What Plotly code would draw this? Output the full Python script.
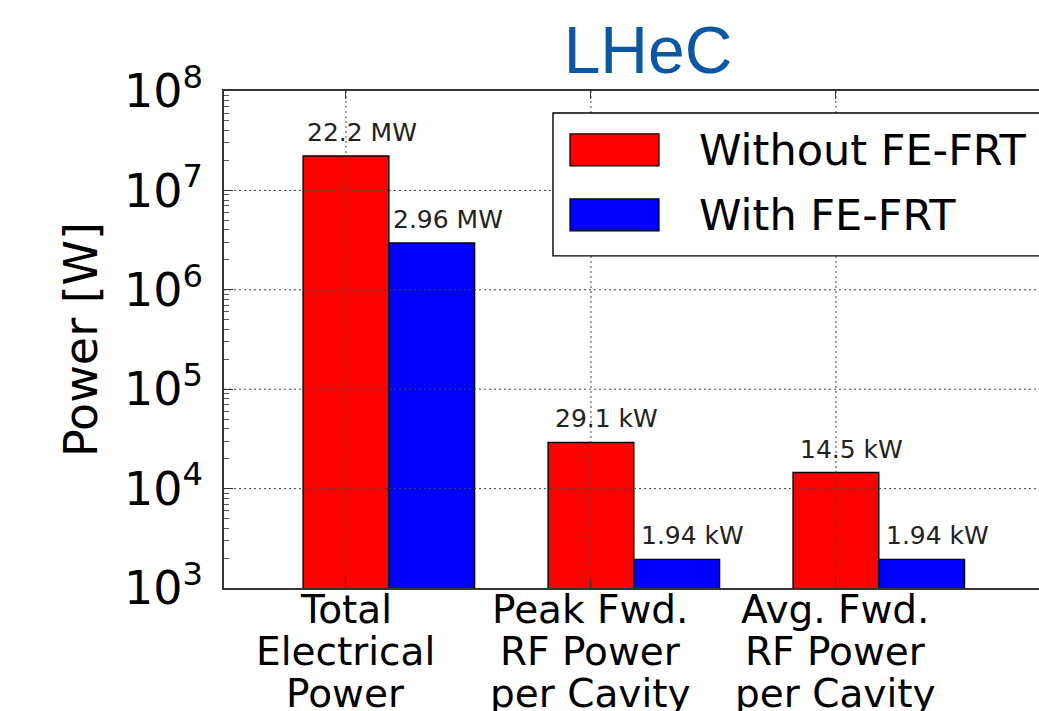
import math
import plotly.graph_objects as go

# ---------------- data ----------------
categories = ["Total\nElectrical\nPower",
              "Peak Fwd.\nRF Power\nper Cavity",
              "Avg. Fwd.\nRF Power\nper Cavity"]
series_names = ["Without FE-FRT", "With FE-FRT"]
without_fe_frt = [22.2e6, 29.1e3, 14.5e3]   # W
with_fe_frt = [2.96e6, 1.94e3, 1.94e3]      # W
ytick_exponents = [3, 4, 5, 6, 7, 8]
title_text = "LHeC"
y_title = "Power [W]"

# ---------------- layout helpers ----------------
W, H = 1039, 711
L_PX, T_PX, B_PX = 224, 91, 588.5
FONT = "DejaVu Sans"
BAR_W = 0.35
X_RANGE = [-0.498, 2.829]


def px_x(px):
    return (px - L_PX) / (W - L_PX)


def px_y(py):
    return (B_PX - py) / (B_PX - T_PX)


def fmt(v):
    if v >= 1e6:
        return f"{v / 1e6:.3g} MW"
    return f"{v / 1e3:.3g} kW"


colors = ["#ff0000", "#0000ff"]
series = [without_fe_frt, with_fe_frt]
xpos = list(range(len(categories)))

fig = go.Figure()
for s, (name, vals, col) in enumerate(zip(series_names, series, colors)):
    fig.add_trace(go.Bar(
        x=[i + s * BAR_W for i in xpos], y=vals, width=BAR_W, name=name,
        marker=dict(color=col, line=dict(color="#000000", width=1.4)),
        showlegend=False, hoverinfo="skip"))

# grid lines (drawn above bars, as in the matplotlib original)
gx, gy = [], []
for e in ytick_exponents[1:-1]:
    gx += [X_RANGE[0], X_RANGE[1], None]
    gy += [10 ** e, 10 ** e, None]
for i in xpos:
    gx += [i, i, None]
    gy += [10 ** ytick_exponents[0], 10 ** ytick_exponents[-1], None]
fig.add_trace(go.Scatter(x=gx, y=gy, mode="lines", showlegend=False, hoverinfo="skip",
                         line=dict(color="#444444", width=1, dash="2px,3px")))

annotations = []
# value labels
for s, vals in enumerate(series):
    for i, v in zip(xpos, vals):
        annotations.append(dict(
            x=i + s * BAR_W, y=math.log10(v), xref="x", yref="y",
            text=fmt(v), showarrow=False, xshift=16, yshift=7,
            xanchor="center", yanchor="bottom",
            font=dict(family=FONT, size=25, color="#222222")))

# category labels (multi-line, matplotlib-like line spacing)
baselines = [624, 666, 708]
fs_cat = 39
for i, cat in zip(xpos, categories):
    for line, bl in zip(cat.split("\n"), baselines):
        annotations.append(dict(
            x=i, y=px_y(bl - 0.346 * fs_cat), xref="x", yref="paper",
            text=line, showarrow=False, xanchor="center", yanchor="middle",
            font=dict(family=FONT, size=fs_cat, color="#000000")))

# legend (manual, matplotlib style, cut at the right edge like the original)
shapes = [dict(type="rect", xref="paper", yref="paper",
               x0=px_x(553), x1=px_x(1120), y0=px_y(256), y1=px_y(113),
               line=dict(color="#000000", width=1.4), fillcolor="#ffffff", layer="above")]
for k, (name, col) in enumerate(zip(series_names, colors)):
    cy = 150 + k * 65
    shapes.append(dict(type="rect", xref="paper", yref="paper",
                       x0=px_x(570), x1=px_x(659), y0=px_y(cy + 16), y1=px_y(cy - 16),
                       line=dict(color="#000000", width=1.2), fillcolor=col, layer="above"))
    annotations.append(dict(x=px_x(697), y=px_y(cy), xref="paper", yref="paper",
                            text=name, showarrow=False, xanchor="left", yanchor="middle",
                            font=dict(family=FONT, size=43, color="#000000")))

minor_vals = [k * 10 ** e for e in ytick_exponents[:-1] for k in range(2, 10)]

fig.update_layout(
    width=W, height=H,
    margin=dict(l=L_PX, r=0, t=T_PX, b=H - B_PX, pad=0),
    paper_bgcolor="#ffffff", plot_bgcolor="#ffffff",
    barmode="overlay",
    showlegend=False,
    title=dict(text=title_text, x=648 / W, xanchor="center", xref="container",
               yref="container", y=1 - 50 / H, yanchor="middle",
               font=dict(family="Liberation Sans", size=66, color="#0b57a4")),
    xaxis=dict(range=X_RANGE, showgrid=False, zeroline=False,
               showline=True, linecolor="#333333", linewidth=1.5, mirror="ticks",
               ticks="inside", tickvals=xpos, ticklen=8, tickcolor="#333333",
               showticklabels=False, fixedrange=True),
    yaxis=dict(type="log", range=[ytick_exponents[0], ytick_exponents[-1]],
               showgrid=False, showline=True, linecolor="#333333", linewidth=1.5,
               ticks="inside", ticklen=9, tickcolor="#333333",
               tickvals=[10 ** e for e in ytick_exponents],
               ticktext=[f"10<sup>{e}</sup>" for e in ytick_exponents],
               tickfont=dict(family=FONT, size=46, color="#000000"),
               ticklabelstandoff=10,
               minor=dict(tickvals=minor_vals, ticks="inside", ticklen=5,
                          tickcolor="#555555", showgrid=False),
               title=dict(text=y_title, font=dict(family=FONT, size=46, color="#000000"),
                          standoff=12),
               automargin=False, fixedrange=True),
    annotations=annotations,
    shapes=shapes,
)

fig.write_html("out.html", config={"displayModeBar": False})
